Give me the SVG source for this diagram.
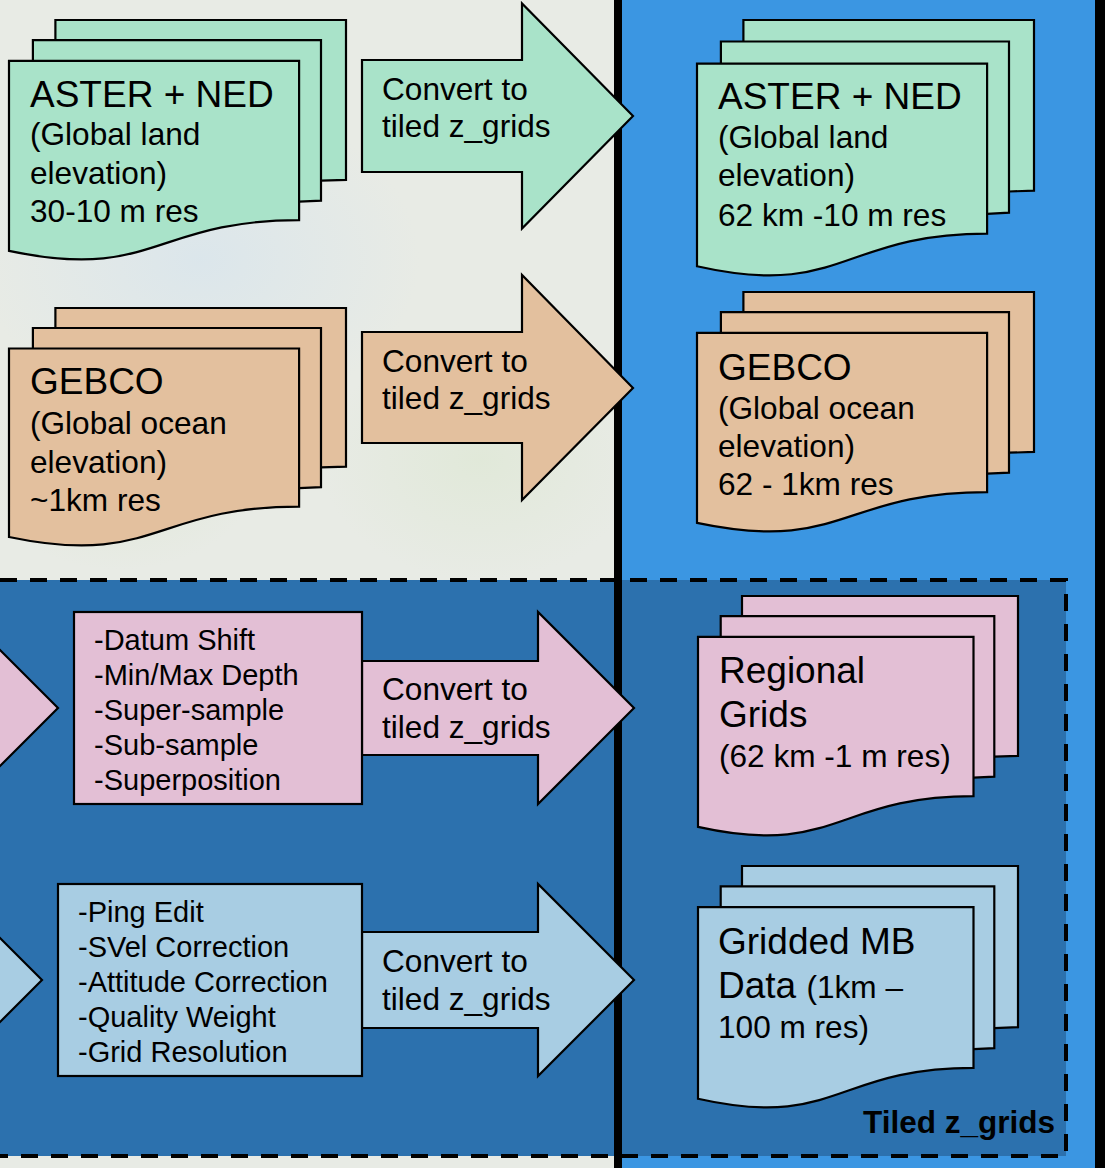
<svg xmlns="http://www.w3.org/2000/svg" width="1105" height="1168" viewBox="0 0 1105 1168">
<defs>
<style>
.sh{stroke:#000;stroke-width:2.2;stroke-linejoin:miter}
.g{fill:#a9e3c9}.t{fill:#e3c09e}.p{fill:#e3bfd5}.b{fill:#a8cde3}
text{font-family:"Liberation Sans",Arial,sans-serif;fill:#000}
.big{font-size:37px}.sm{font-size:31.6px}.lst{font-size:29px}
.lbl{font-size:31.5px;font-weight:bold}
</style>
<radialGradient id="m1" cx="0.5" cy="0.5" r="0.5"><stop offset="0" stop-color="#d6e4ee" stop-opacity="0.7"/><stop offset="1" stop-color="#d6e4ee" stop-opacity="0"/></radialGradient>
<radialGradient id="m2" cx="0.5" cy="0.5" r="0.5"><stop offset="0" stop-color="#dfe8d6" stop-opacity="0.8"/><stop offset="1" stop-color="#dfe8d6" stop-opacity="0"/></radialGradient>
</defs>
<g id="background">
<rect x="0" y="0" width="618" height="1168" fill="#e8ebe5"/>
<ellipse cx="200" cy="260" rx="220" ry="160" fill="url(#m1)"/>
<ellipse cx="480" cy="460" rx="160" ry="120" fill="url(#m2)"/>
<ellipse cx="120" cy="470" rx="140" ry="100" fill="url(#m2)"/>
<rect x="618" y="0" width="487" height="1168" fill="#3b96e2"/>
<rect x="0" y="580" width="1066" height="576" fill="#2c71ae"/>
<path d="M0,580 H1066 V1156 H0" fill="none" stroke="#000" stroke-width="4" stroke-dasharray="17 13"/>
<rect x="614" y="0" width="8" height="1168" fill="#000"/>
<rect x="1095" y="0" width="10" height="1168" fill="#000"/>
</g>
<g id="connectors">
<path class="sh g" d="M362,60 H522 V3.5 L633,116 L522,228.5 V172 H362 Z"/>
<path class="sh t" d="M362,332 H522 V275 L633,388 L522,500 V443 H362 Z"/>
<path class="sh p" d="M362,661 H538 V612 L634,708 L538,804 V755 H362 Z"/>
<path class="sh b" d="M362,932 H538 V884 L634,980 L538,1076 V1028 H362 Z"/>
<path class="sh p" d="M-60,590 L58,708 L-60,826 Z"/>
<path class="sh b" d="M-60,878 L42,980 L-60,1082 Z"/>
<text class="sm" x="382" y="100">Convert to</text>
<text class="sm" x="382" y="137">tiled z_grids</text>
<text class="sm" x="382" y="372">Convert to</text>
<text class="sm" x="382" y="409">tiled z_grids</text>
<text class="sm" x="382" y="700">Convert to</text>
<text class="sm" x="382" y="738">tiled z_grids</text>
<text class="sm" x="382" y="972">Convert to</text>
<text class="sm" x="382" y="1010">tiled z_grids</text>
</g>
<g id="aster-src">
<path class="sh g" d="M55.4,180.7 V20 H346 V179.9 L321,180.7 Z"/>
<path class="sh g" d="M32.9,201.7 V40.2 H321 V200.6 L299.1,201.7 Z"/>
<path class="sh g" d="M9,250.9 C154.1,281.6 154.1,220.2 299.1,220.2 V60.8 H9 Z"/>
<text class="big" x="30" y="107">ASTER + NED</text>
<text class="sm" x="30" y="145">(Global land</text>
<text class="sm" x="30" y="184">elevation)</text>
<text class="sm" x="30" y="222">30-10 m res</text>
</g>
<g id="aster-tiled">
<path class="sh g" d="M743.4,191.5 V20 H1034 V190.6 L1009,191.5 Z"/>
<path class="sh g" d="M720.9,213.8 V41.5 H1009 V212.6 L987.1,213.8 Z"/>
<path class="sh g" d="M697,266.3 C842.1,299 842.1,233.6 987.1,233.6 V63.6 H697 Z"/>
<text class="big" x="718" y="109">ASTER + NED</text>
<text class="sm" x="718" y="148">(Global land</text>
<text class="sm" x="718" y="186">elevation)</text>
<text class="sm" x="718" y="226">62 km -10 m res</text>
</g>
<g id="gebco-src">
<path class="sh t" d="M55.4,467.4 V308 H346 V466.6 L321,467.4 Z"/>
<path class="sh t" d="M32.9,488.2 V328 H321 V487.1 L299.1,488.2 Z"/>
<path class="sh t" d="M9,537 C154.1,567.4 154.1,506.6 299.1,506.6 V348.5 H9 Z"/>
<text class="big" x="30" y="394">GEBCO</text>
<text class="sm" x="30" y="434">(Global ocean</text>
<text class="sm" x="30" y="473">elevation)</text>
<text class="sm" x="30" y="511">~1km res</text>
</g>
<g id="gebco-tiled">
<path class="sh t" d="M743.4,452.7 V292 H1034 V451.9 L1009,452.7 Z"/>
<path class="sh t" d="M720.9,473.7 V312.2 H1009 V472.6 L987.1,473.7 Z"/>
<path class="sh t" d="M697,522.9 C842.1,553.6 842.1,492.2 987.1,492.2 V332.8 H697 Z"/>
<text class="big" x="718" y="380">GEBCO</text>
<text class="sm" x="718" y="419">(Global ocean</text>
<text class="sm" x="718" y="457">elevation)</text>
<text class="sm" x="718" y="495">62 - 1km res</text>
</g>
<g id="regional-process">
<rect class="sh p" x="74" y="612" width="288" height="192"/>
<text class="lst" x="94" y="650">-Datum Shift</text>
<text class="lst" x="94" y="685">-Min/Max Depth</text>
<text class="lst" x="94" y="720">-Super-sample</text>
<text class="lst" x="94" y="755">-Sub-sample</text>
<text class="lst" x="94" y="790">-Superposition</text>
</g>
<g id="regional-grids">
<path class="sh p" d="M742,756.7 V596 H1018 V755.9 L994.3,756.7 Z"/>
<path class="sh p" d="M720.7,777.7 V616.2 H994.3 V776.6 L973.5,777.7 Z"/>
<path class="sh p" d="M698,826.9 C835.7,857.6 835.7,796.2 973.5,796.2 V636.8 H698 Z"/>
<text class="big" x="719" y="683">Regional</text>
<text class="big" x="719" y="727">Grids</text>
<text class="sm" x="719" y="767">(62 km -1 m res)</text>
</g>
<g id="mb-process">
<rect class="sh b" x="58" y="884" width="304" height="192"/>
<text class="lst" x="78" y="922">-Ping Edit</text>
<text class="lst" x="78" y="957">-SVel Correction</text>
<text class="lst" x="78" y="992">-Attitude Correction</text>
<text class="lst" x="78" y="1027">-Quality Weight</text>
<text class="lst" x="78" y="1062">-Grid Resolution</text>
</g>
<g id="gridded-mb">
<path class="sh b" d="M742,1028.1 V866 H1018 V1027.2 L994.3,1028.1 Z"/>
<path class="sh b" d="M720.7,1049.2 V886.3 H994.3 V1048.1 L973.5,1049.2 Z"/>
<path class="sh b" d="M698,1098.8 C835.7,1129.8 835.7,1067.9 973.5,1067.9 V907.2 H698 Z"/>
<text class="big" x="718" y="954">Gridded MB</text>
<text x="718" y="998"><tspan class="big">Data </tspan><tspan class="sm">(1km –</tspan></text>
<text class="sm" x="718" y="1038">100 m res)</text>
</g>
<g id="tiled-label">
<text class="lbl" x="1055" y="1133" text-anchor="end">Tiled z_grids</text>
</g>
</svg>
